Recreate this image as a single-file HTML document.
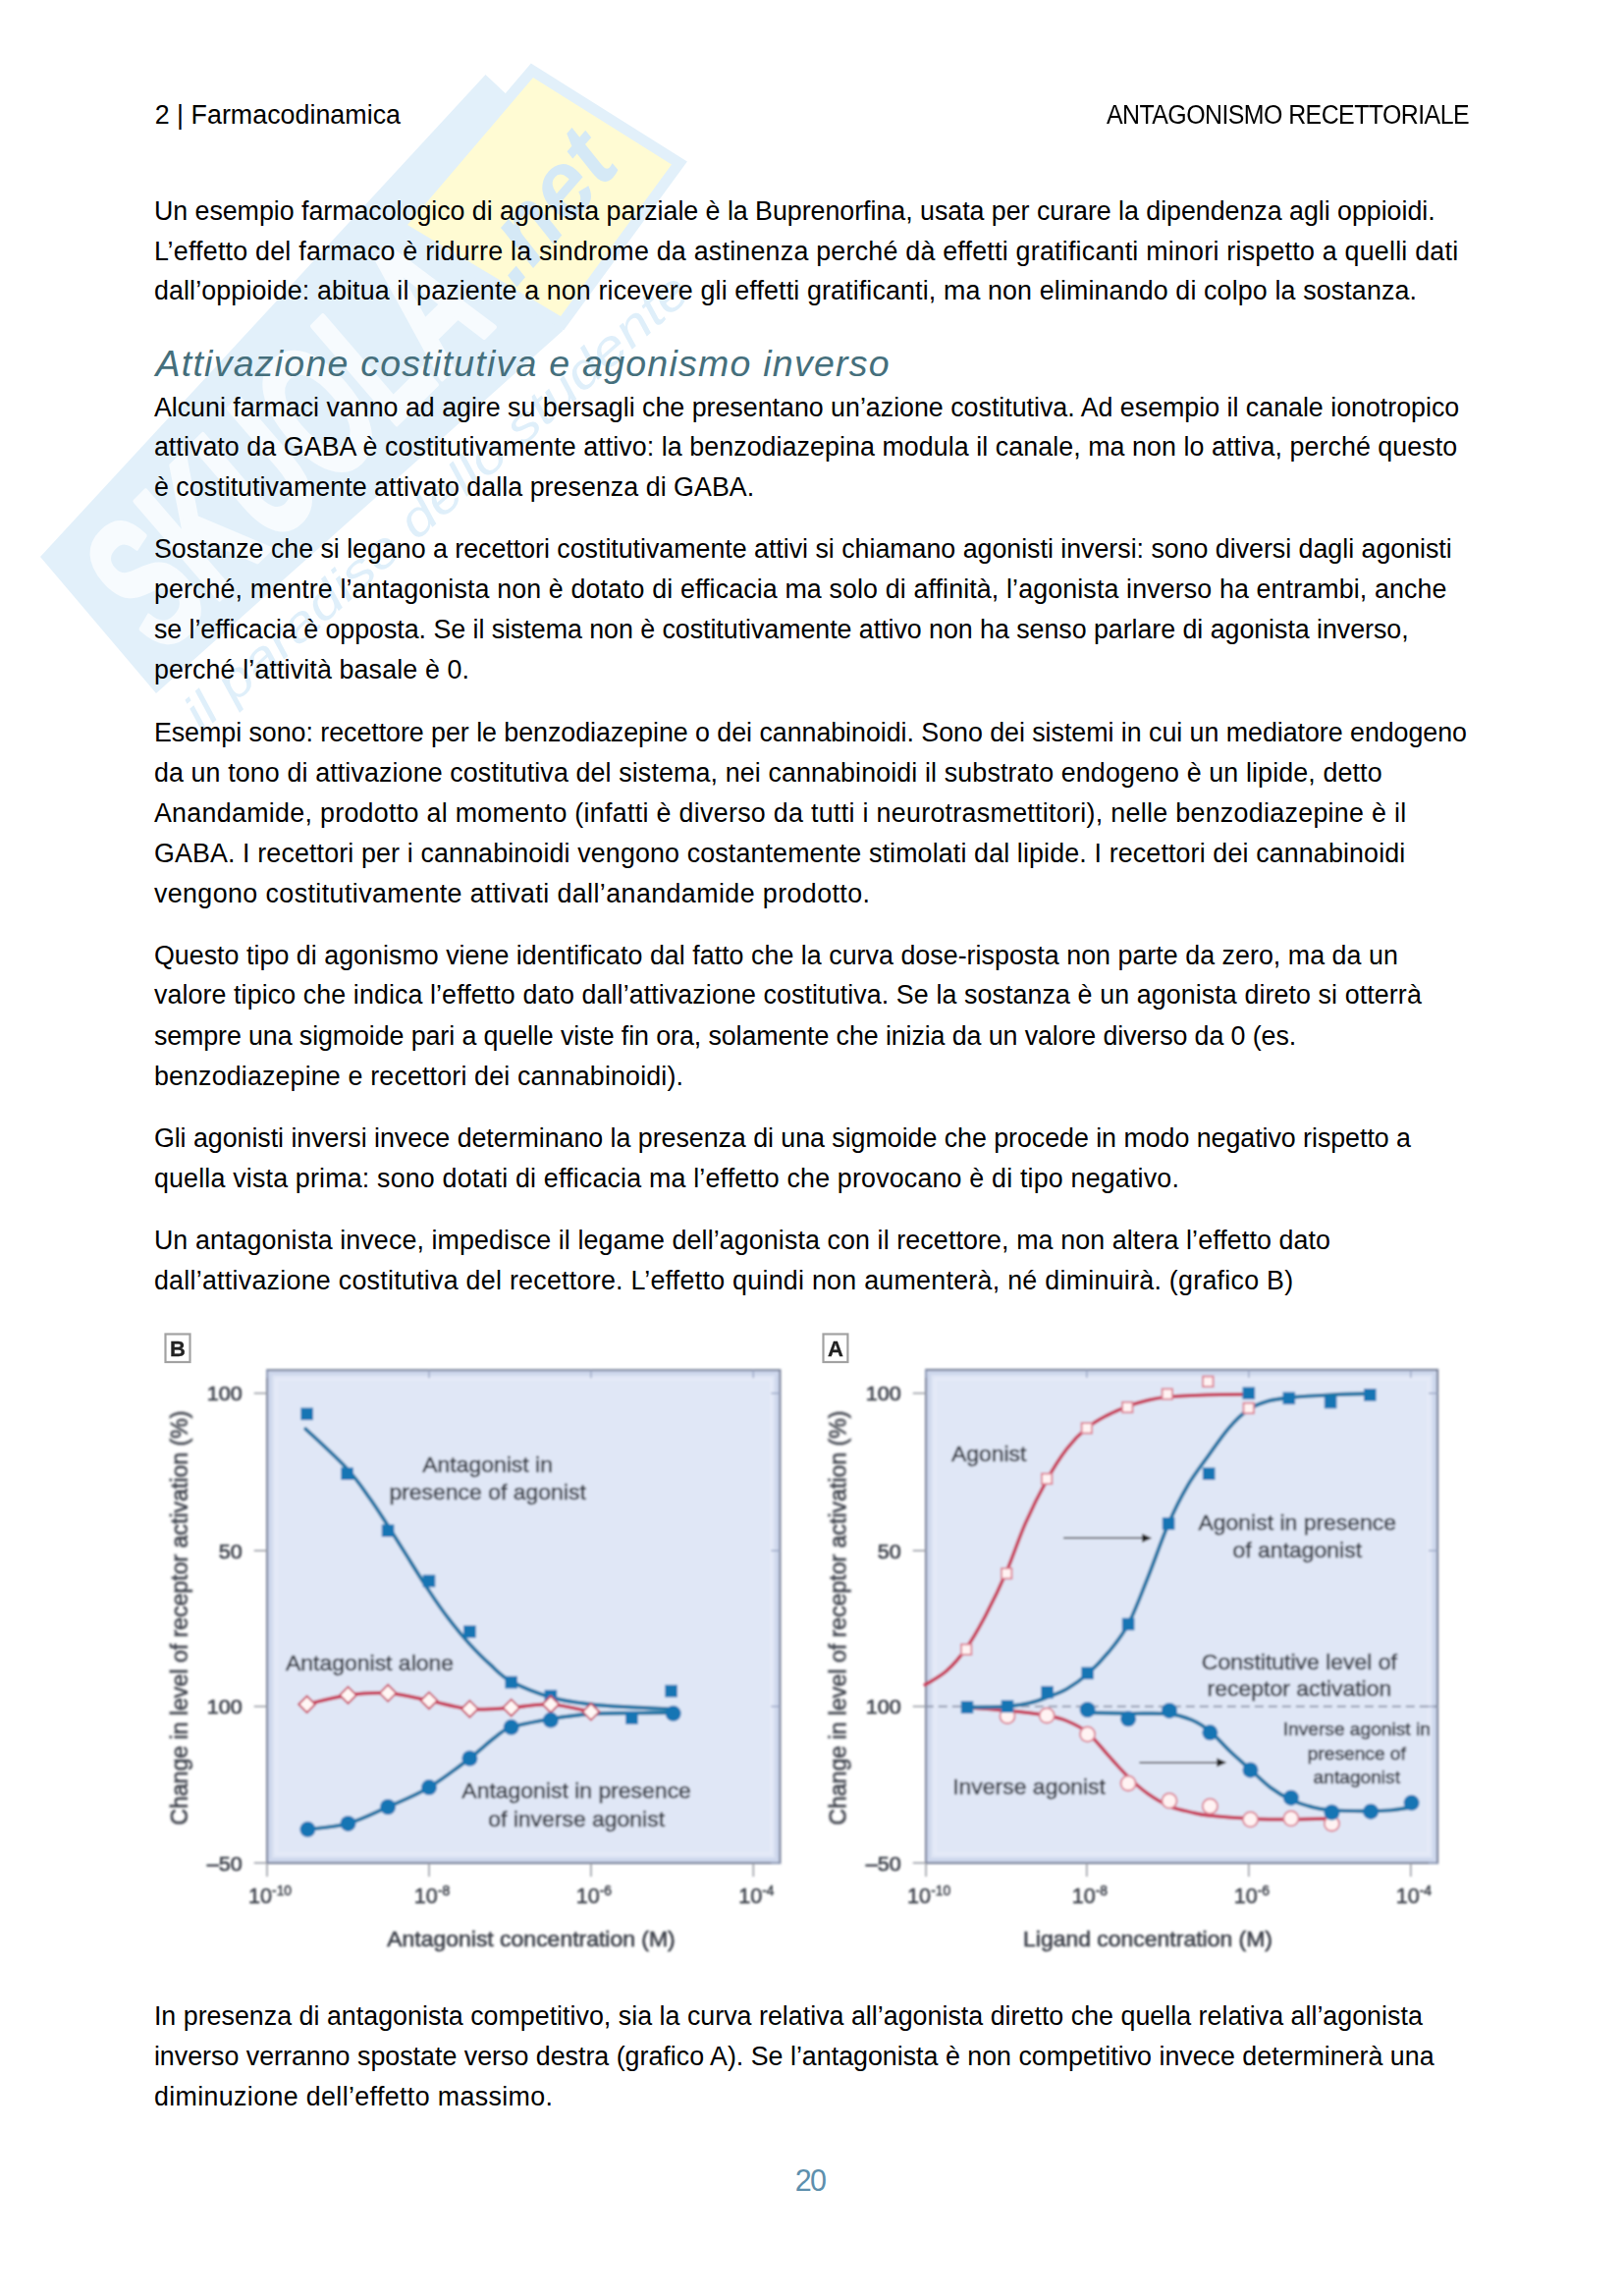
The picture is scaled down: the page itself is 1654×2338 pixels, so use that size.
<!DOCTYPE html>
<html lang="it"><head><meta charset="utf-8"><title>Farmacodinamica - Antagonismo recettoriale</title>
<style>
html,body{margin:0;padding:0;background:#fff}
body{width:1654px;height:2338px;position:relative;overflow:hidden;font-family:"Liberation Sans",sans-serif;color:#000}
header,footer,main,p,figure,h2{margin:0;padding:0;font-weight:normal}
.l{display:block;position:absolute;left:156.9px;white-space:pre;font-size:26.8px;line-height:30px;height:30px;margin:0}
svg{position:absolute;left:0;top:0}
</style></head>
<body>
<svg width="1654" height="2338" viewBox="0 0 1654 2338" font-family="'Liberation Sans',sans-serif">
<polygon points="41.0,567.0 494.5,76.0 520.0,100.0 573.0,337.0 159.0,706.0" fill="#e2f0fa"/>
<text transform="translate(163.5,669.4) rotate(-44.7) skewX(-4)" font-size="190" font-weight="bold" fill="#f7fbfe" stroke="#f7fbfe" stroke-width="5" stroke-linejoin="round" textLength="482" lengthAdjust="spacingAndGlyphs">SKUOLA</text>
<polygon points="540.8,64.6 699.9,164.5 574.0,336.6 398.2,231.8" fill="#e2f0fa"/>
<polygon points="543.0,79.0 684.0,167.5 571.0,322.0 415.0,229.0" fill="#fffbd3"/>
<text transform="translate(579.2,231.4) rotate(-49)" font-size="98" font-style="italic" font-weight="bold" fill="#d5e9f6" text-anchor="middle" textLength="165" lengthAdjust="spacingAndGlyphs">.net</text>
<text transform="translate(205.6,746.2) rotate(-41.7)" font-size="50" font-style="italic" fill="#dfeffa" textLength="670" lengthAdjust="spacingAndGlyphs">il paradiso dello studente</text>
</svg>
<header>
<span class="l hl" style="left:157.7px;top:102px;font-size:26.8px;line-height:30px;height:30px;letter-spacing:0.032px">2 | Farmacodinamica</span>
<span class="l hr" style="left:1127.4px;top:102px;font-size:26.8px;transform:scaleX(.93);transform-origin:0 0;line-height:30px;height:30px;letter-spacing:-0.611px">ANTAGONISMO RECETTORIALE</span>
</header>
<main>
<p>
<span class="l" style="top:200px;letter-spacing:-0.029px">Un esempio farmacologico di agonista parziale è la Buprenorfina, usata per curare la dipendenza agli oppioidi.</span>
<span class="l" style="top:241px;letter-spacing:0.236px">L’effetto del farmaco è ridurre la sindrome da astinenza perché dà effetti gratificanti minori rispetto a quelli dati</span>
<span class="l" style="top:281px;letter-spacing:0.141px">dall’oppioide: abitua il paziente a non ricevere gli effetti gratificanti, ma non eliminando di colpo la sostanza.</span>
</p>
<h2 class="l h2" style="left:158.5px;top:349px;font-size:37.5px;font-style:italic;color:#456f7c;line-height:42px;height:42px;letter-spacing:1.242px">Attivazione costitutiva e agonismo inverso</h2>
<p>
<span class="l" style="top:400px;letter-spacing:-0.008px">Alcuni farmaci vanno ad agire su bersagli che presentano un’azione costitutiva. Ad esempio il canale ionotropico</span>
<span class="l" style="top:440px;letter-spacing:0.068px">attivato da GABA è costitutivamente attivo: la benzodiazepina modula il canale, ma non lo attiva, perché questo</span>
<span class="l" style="top:481px;letter-spacing:0.042px">è costitutivamente attivato dalla presenza di GABA.</span>
</p>
<p>
<span class="l" style="top:544px;letter-spacing:-0.020px">Sostanze che si legano a recettori costitutivamente attivi si chiamano agonisti inversi: sono diversi dagli agonisti</span>
<span class="l" style="top:585px;letter-spacing:0.126px">perché, mentre l’antagonista non è dotato di efficacia ma solo di affinità, l’agonista inverso ha entrambi, anche</span>
<span class="l" style="top:626px;letter-spacing:-0.039px">se l’efficacia è opposta. Se il sistema non è costitutivamente attivo non ha senso parlare di agonista inverso,</span>
<span class="l" style="top:667px;letter-spacing:0.136px">perché l’attività basale è 0.</span>
</p>
<p>
<span class="l" style="top:731px;letter-spacing:-0.033px">Esempi sono: recettore per le benzodiazepine o dei cannabinoidi. Sono dei sistemi in cui un mediatore endogeno</span>
<span class="l" style="top:772px;letter-spacing:0.133px">da un tono di attivazione costitutiva del sistema, nei cannabinoidi il substrato endogeno è un lipide, detto</span>
<span class="l" style="top:813px;letter-spacing:0.309px">Anandamide, prodotto al momento (infatti è diverso da tutti i neurotrasmettitori), nelle benzodiazepine è il</span>
<span class="l" style="top:854px;letter-spacing:0.145px">GABA. I recettori per i cannabinoidi vengono costantemente stimolati dal lipide. I recettori dei cannabinoidi</span>
<span class="l" style="top:895px;letter-spacing:0.422px">vengono costitutivamente attivati dall’anandamide prodotto.</span>
</p>
<p>
<span class="l" style="top:958px;letter-spacing:0.035px">Questo tipo di agonismo viene identificato dal fatto che la curva dose-risposta non parte da zero, ma da un</span>
<span class="l" style="top:998px;letter-spacing:0.103px">valore tipico che indica l’effetto dato dall’attivazione costitutiva. Se la sostanza è un agonista direto si otterrà</span>
<span class="l" style="top:1040px;letter-spacing:-0.091px">sempre una sigmoide pari a quelle viste fin ora, solamente che inizia da un valore diverso da 0 (es.</span>
<span class="l" style="top:1081px;letter-spacing:0.165px">benzodiazepine e recettori dei cannabinoidi).</span>
</p>
<p>
<span class="l" style="top:1144px;letter-spacing:-0.037px">Gli agonisti inversi invece determinano la presenza di una sigmoide che procede in modo negativo rispetto a</span>
<span class="l" style="top:1185px;letter-spacing:0.190px">quella vista prima: sono dotati di efficacia ma l’effetto che provocano è di tipo negativo.</span>
</p>
<p>
<span class="l" style="top:1248px;letter-spacing:0.112px">Un antagonista invece, impedisce il legame dell’agonista con il recettore, ma non altera l’effetto dato</span>
<span class="l" style="top:1289px;letter-spacing:0.272px">dall’attivazione costitutiva del recettore. L’effetto quindi non aumenterà, né diminuirà. (grafico B)</span>
</p>
<figure>
<svg width="1654" height="2338" viewBox="0 0 1654 2338" font-family="'Liberation Sans',sans-serif"><defs><filter id="soft" x="-2%" y="-2%" width="104%" height="104%"><feGaussianBlur stdDeviation="0.9"/></filter><filter id="soft2" x="-10%" y="-10%" width="120%" height="120%"><feGaussianBlur stdDeviation="0.5"/></filter></defs><g filter="url(#soft)">
<g id="chartB">
<rect x="272.2" y="1395.3" width="522.1" height="501.7" fill="#dde4f4" stroke="#78819a" stroke-width="2.3"/>
<rect x="275.2" y="1398.3" width="516.1" height="495.7" fill="none" stroke="#c9d3ea" stroke-width="4" opacity=".8"/>
<rect x="281.2" y="1404.3" width="504.1" height="483.7" fill="#e0e7f6" stroke="#e5eaf8" stroke-width="3"/>
<path d="M258.7,1418.7H272.2" stroke="#9a9ea6" stroke-width="1.6"/>
<path d="M785.3,1418.7H794.3" stroke="#9aa6c4" stroke-width="1.4"/>
<text transform="translate(246.7,1426.3) scale(1.03,1)" font-size="21" text-anchor="end" fill="#3c404a" stroke="#3c404a" stroke-width=".6">100</text>
<path d="M258.7,1579.0H272.2" stroke="#9a9ea6" stroke-width="1.6"/>
<path d="M785.3,1579.0H794.3" stroke="#9aa6c4" stroke-width="1.4"/>
<text transform="translate(246.7,1586.6) scale(1.03,1)" font-size="21" text-anchor="end" fill="#3c404a" stroke="#3c404a" stroke-width=".6">50</text>
<path d="M258.7,1737.6H272.2" stroke="#9a9ea6" stroke-width="1.6"/>
<path d="M785.3,1737.6H794.3" stroke="#9aa6c4" stroke-width="1.4"/>
<text transform="translate(246.7,1745.2) scale(1.03,1)" font-size="21" text-anchor="end" fill="#3c404a" stroke="#3c404a" stroke-width=".6">100</text>
<path d="M258.7,1897.0H272.2" stroke="#9a9ea6" stroke-width="1.6"/>
<path d="M785.3,1897.0H794.3" stroke="#9aa6c4" stroke-width="1.4"/>
<text transform="translate(246.7,1904.6) scale(1.03,1)" font-size="21" text-anchor="end" fill="#3c404a" stroke="#3c404a" stroke-width=".6">–50</text>
<path d="M272.0,1897.0V1911.0" stroke="#9a9ea6" stroke-width="1.6"/>
<path d="M272.0,1395.3v8" stroke="#9aa6c4" stroke-width="1.4"/>
<text x="275.0" y="1938.2" font-size="21.6" text-anchor="middle" fill="#3c404a" stroke="#3c404a" stroke-width=".5">10<tspan dy="-8.5" font-size="13.8">-10</tspan></text>
<path d="M437.0,1897.0V1911.0" stroke="#9a9ea6" stroke-width="1.6"/>
<path d="M437.0,1395.3v8" stroke="#9aa6c4" stroke-width="1.4"/>
<text x="440.0" y="1938.2" font-size="21.6" text-anchor="middle" fill="#3c404a" stroke="#3c404a" stroke-width=".5">10<tspan dy="-8.5" font-size="13.8">-8</tspan></text>
<path d="M601.9,1897.0V1911.0" stroke="#9a9ea6" stroke-width="1.6"/>
<path d="M601.9,1395.3v8" stroke="#9aa6c4" stroke-width="1.4"/>
<text x="604.9" y="1938.2" font-size="21.6" text-anchor="middle" fill="#3c404a" stroke="#3c404a" stroke-width=".5">10<tspan dy="-8.5" font-size="13.8">-6</tspan></text>
<path d="M767.3,1897.0V1911.0" stroke="#9a9ea6" stroke-width="1.6"/>
<path d="M767.3,1395.3v8" stroke="#9aa6c4" stroke-width="1.4"/>
<text x="770.3" y="1938.2" font-size="21.6" text-anchor="middle" fill="#3c404a" stroke="#3c404a" stroke-width=".5">10<tspan dy="-8.5" font-size="13.8">-4</tspan></text>
<text transform="translate(190.8,1647.5) rotate(-90)" font-size="23.3" text-anchor="middle" fill="#3c404a" stroke="#3c404a" stroke-width=".6" textLength="422" lengthAdjust="spacingAndGlyphs">Change in level of receptor activation (%)</text>
<text transform="translate(541.0,1982.1) scale(1.03,1)" font-size="22.3" text-anchor="middle" fill="#3c404a" stroke="#3c404a" stroke-width=".6">Antagonist concentration (M)</text>
<path d="M311.3,1455.1C318.4,1461.8 342.7,1483.8 353.6,1495.7C364.5,1507.5 370.0,1516.5 376.9,1526.1C383.8,1535.8 388.7,1543.8 395.1,1553.6C401.4,1563.5 408.0,1574.3 415.0,1585.3C421.9,1596.4 429.9,1609.5 437.0,1620.0C444.0,1630.6 450.3,1639.8 457.3,1648.8C464.2,1657.8 471.4,1666.4 478.4,1674.2C485.5,1681.9 492.5,1689.0 499.6,1695.3C506.6,1701.7 510.5,1706.8 520.7,1712.3C530.9,1717.7 547.4,1724.4 560.9,1728.3C574.4,1732.2 588.2,1733.8 601.9,1735.5C615.7,1737.2 629.8,1737.7 643.4,1738.5C657.0,1739.3 676.9,1739.9 683.6,1740.2" fill="none" stroke="#1d74a4" stroke-width="3.9" stroke-linecap="round"/>
<path d="M312.6,1735.5C319.6,1734.0 340.7,1728.1 354.5,1726.2C368.2,1724.3 381.3,1723.2 395.1,1724.1C408.8,1725.0 423.1,1729.0 437.0,1731.7C450.8,1734.4 464.5,1739.0 478.4,1740.2C492.4,1741.4 507.0,1739.7 520.7,1738.9C534.5,1738.1 547.4,1734.8 560.9,1735.5C574.4,1736.2 595.1,1741.9 601.9,1743.1" fill="none" stroke="#c8405c" stroke-width="3.7" stroke-linecap="round"/>
<path d="M313.4,1862.8C320.3,1861.9 340.9,1860.7 354.5,1856.9C368.1,1853.1 381.3,1846.1 395.1,1840.0C408.8,1833.9 423.1,1828.4 437.0,1820.1C450.8,1811.9 467.3,1799.0 478.4,1790.5C489.5,1782.0 496.7,1774.6 503.8,1769.4C510.8,1764.1 511.2,1762.0 520.7,1758.8C530.2,1755.6 547.4,1752.6 560.9,1750.3C574.4,1748.1 588.2,1746.2 601.9,1745.2C615.7,1744.3 629.4,1744.6 643.4,1744.4C657.3,1744.2 678.6,1744.0 685.7,1744.0" fill="none" stroke="#1d74a4" stroke-width="3.9" stroke-linecap="round"/>
<rect x="306.3" y="1433.5" width="12.6" height="12.6" fill="#1274b4"/>
<rect x="347.3" y="1494.4" width="12.6" height="12.6" fill="#1274b4"/>
<rect x="388.8" y="1552.4" width="12.6" height="12.6" fill="#1274b4"/>
<rect x="430.7" y="1603.6" width="12.6" height="12.6" fill="#1274b4"/>
<rect x="472.1" y="1655.2" width="12.6" height="12.6" fill="#1274b4"/>
<rect x="514.4" y="1706.8" width="12.6" height="12.6" fill="#1274b4"/>
<rect x="554.6" y="1720.8" width="12.6" height="12.6" fill="#1274b4"/>
<rect x="637.1" y="1743.2" width="12.6" height="12.6" fill="#1274b4"/>
<rect x="677.3" y="1715.7" width="12.6" height="12.6" fill="#1274b4"/>
<path d="M304.1,1735.5L312.6,1727.0L321.1,1735.5L312.6,1744.0Z" fill="#fff7f5" stroke="#c8405c" stroke-width="1.8"/>
<path d="M346.0,1726.2L354.5,1717.7L363.0,1726.2L354.5,1734.7Z" fill="#fff7f5" stroke="#c8405c" stroke-width="1.8"/>
<path d="M386.6,1724.1L395.1,1715.6L403.6,1724.1L395.1,1732.6Z" fill="#fff7f5" stroke="#c8405c" stroke-width="1.8"/>
<path d="M428.5,1731.7L437.0,1723.2L445.5,1731.7L437.0,1740.2Z" fill="#fff7f5" stroke="#c8405c" stroke-width="1.8"/>
<path d="M469.9,1740.2L478.4,1731.7L486.9,1740.2L478.4,1748.7Z" fill="#fff7f5" stroke="#c8405c" stroke-width="1.8"/>
<path d="M512.2,1738.9L520.7,1730.4L529.2,1738.9L520.7,1747.4Z" fill="#fff7f5" stroke="#c8405c" stroke-width="1.8"/>
<path d="M552.4,1735.5L560.9,1727.0L569.4,1735.5L560.9,1744.0Z" fill="#fff7f5" stroke="#c8405c" stroke-width="1.8"/>
<path d="M593.4,1743.1L601.9,1734.6L610.4,1743.1L601.9,1751.6Z" fill="#fff7f5" stroke="#c8405c" stroke-width="1.8"/>
<circle cx="313.4" cy="1862.8" r="8.0" fill="#1274b4"/>
<circle cx="354.5" cy="1856.9" r="8.0" fill="#1274b4"/>
<circle cx="395.1" cy="1840.0" r="8.0" fill="#1274b4"/>
<circle cx="437.0" cy="1820.1" r="8.0" fill="#1274b4"/>
<circle cx="478.4" cy="1790.5" r="8.0" fill="#1274b4"/>
<circle cx="520.7" cy="1758.8" r="8.0" fill="#1274b4"/>
<circle cx="560.9" cy="1751.6" r="8.0" fill="#1274b4"/>
<circle cx="685.7" cy="1744.8" r="8.0" fill="#1274b4"/>
<text transform="translate(496.6,1498.6) scale(1.03,1)" font-size="22.3" text-anchor="middle" fill="#3c404a" stroke="#3c404a" stroke-width=".6">Antagonist in</text>
<text transform="translate(496.6,1527.0) scale(1.03,1)" font-size="22.3" text-anchor="middle" fill="#3c404a" stroke="#3c404a" stroke-width=".6">presence of agonist</text>
<text transform="translate(291.0,1700.8) scale(1.03,1)" font-size="22.3" text-anchor="start" fill="#3c404a" stroke="#3c404a" stroke-width=".6">Antagonist alone</text>
<text transform="translate(587.1,1830.7) scale(1.03,1)" font-size="22.3" text-anchor="middle" fill="#3c404a" stroke="#3c404a" stroke-width=".6">Antagonist in presence</text>
<text transform="translate(587.1,1859.5) scale(1.03,1)" font-size="22.3" text-anchor="middle" fill="#3c404a" stroke="#3c404a" stroke-width=".6">of inverse agonist</text>
</g>
<g id="chartA">
<rect x="943.2" y="1395.0" width="520.8" height="502.0" fill="#dde4f4" stroke="#78819a" stroke-width="2.3"/>
<rect x="946.2" y="1398.0" width="514.8" height="496.0" fill="none" stroke="#c9d3ea" stroke-width="4" opacity=".8"/>
<rect x="952.2" y="1404.0" width="502.8" height="484.0" fill="#e0e7f6" stroke="#e5eaf8" stroke-width="3"/>
<path d="M929.7,1418.7H943.2" stroke="#9a9ea6" stroke-width="1.6"/>
<path d="M1455.0,1418.7H1464.0" stroke="#9aa6c4" stroke-width="1.4"/>
<text transform="translate(917.7,1426.3) scale(1.03,1)" font-size="21" text-anchor="end" fill="#3c404a" stroke="#3c404a" stroke-width=".6">100</text>
<path d="M929.7,1579.0H943.2" stroke="#9a9ea6" stroke-width="1.6"/>
<path d="M1455.0,1579.0H1464.0" stroke="#9aa6c4" stroke-width="1.4"/>
<text transform="translate(917.7,1586.6) scale(1.03,1)" font-size="21" text-anchor="end" fill="#3c404a" stroke="#3c404a" stroke-width=".6">50</text>
<path d="M929.7,1737.6H943.2" stroke="#9a9ea6" stroke-width="1.6"/>
<path d="M1455.0,1737.6H1464.0" stroke="#9aa6c4" stroke-width="1.4"/>
<text transform="translate(917.7,1745.2) scale(1.03,1)" font-size="21" text-anchor="end" fill="#3c404a" stroke="#3c404a" stroke-width=".6">100</text>
<path d="M929.7,1897.0H943.2" stroke="#9a9ea6" stroke-width="1.6"/>
<path d="M1455.0,1897.0H1464.0" stroke="#9aa6c4" stroke-width="1.4"/>
<text transform="translate(917.7,1904.6) scale(1.03,1)" font-size="21" text-anchor="end" fill="#3c404a" stroke="#3c404a" stroke-width=".6">–50</text>
<path d="M943.1,1897.0V1911.0" stroke="#9a9ea6" stroke-width="1.6"/>
<path d="M943.1,1395.0v8" stroke="#9aa6c4" stroke-width="1.4"/>
<text x="946.1" y="1938.2" font-size="21.6" text-anchor="middle" fill="#3c404a" stroke="#3c404a" stroke-width=".5">10<tspan dy="-8.5" font-size="13.8">-10</tspan></text>
<path d="M1106.8,1897.0V1911.0" stroke="#9a9ea6" stroke-width="1.6"/>
<path d="M1106.8,1395.0v8" stroke="#9aa6c4" stroke-width="1.4"/>
<text x="1109.8" y="1938.2" font-size="21.6" text-anchor="middle" fill="#3c404a" stroke="#3c404a" stroke-width=".5">10<tspan dy="-8.5" font-size="13.8">-8</tspan></text>
<path d="M1271.8,1897.0V1911.0" stroke="#9a9ea6" stroke-width="1.6"/>
<path d="M1271.8,1395.0v8" stroke="#9aa6c4" stroke-width="1.4"/>
<text x="1274.8" y="1938.2" font-size="21.6" text-anchor="middle" fill="#3c404a" stroke="#3c404a" stroke-width=".5">10<tspan dy="-8.5" font-size="13.8">-6</tspan></text>
<path d="M1436.8,1897.0V1911.0" stroke="#9a9ea6" stroke-width="1.6"/>
<path d="M1436.8,1395.0v8" stroke="#9aa6c4" stroke-width="1.4"/>
<text x="1439.8" y="1938.2" font-size="21.6" text-anchor="middle" fill="#3c404a" stroke="#3c404a" stroke-width=".5">10<tspan dy="-8.5" font-size="13.8">-4</tspan></text>
<text transform="translate(861.5,1647.5) rotate(-90)" font-size="23.3" text-anchor="middle" fill="#3c404a" stroke="#3c404a" stroke-width=".6" textLength="422" lengthAdjust="spacingAndGlyphs">Change in level of receptor activation (%)</text>
<text transform="translate(1169.0,1982.1) scale(1.03,1)" font-size="22.3" text-anchor="middle" fill="#3c404a" stroke="#3c404a" stroke-width=".6">Ligand concentration (M)</text>
<path d="M941.8,1737.6H1465.1" stroke="#8a93a8" stroke-width="1.6" stroke-dasharray="9 5"/>
<path d="M942.3,1715.6C945.8,1713.3 956.8,1707.9 963.8,1701.7C970.8,1695.5 977.4,1687.9 984.1,1678.4C990.8,1668.9 997.2,1657.6 1004.0,1644.6C1010.8,1631.5 1018.5,1615.7 1025.2,1600.2C1031.9,1584.6 1037.4,1567.0 1044.2,1551.5C1051.0,1536.0 1059.1,1519.8 1066.2,1507.1C1073.2,1494.4 1079.7,1484.2 1086.5,1475.4C1093.3,1466.6 1100.0,1459.9 1106.8,1454.2C1113.6,1448.6 1120.2,1445.2 1127.1,1441.5C1134.0,1437.9 1141.3,1434.8 1148.3,1432.2C1155.2,1429.6 1162.2,1427.5 1169.0,1425.9C1175.8,1424.2 1178.6,1423.4 1188.9,1422.5C1199.1,1421.6 1216.5,1420.8 1230.3,1420.4C1244.1,1419.9 1264.9,1420.0 1271.8,1419.9" fill="none" stroke="#c8405c" stroke-width="3.7" stroke-linecap="round"/>
<path d="M984.1,1738.5C991.1,1739.0 1012.3,1740.5 1026.0,1741.9C1039.7,1743.3 1056.1,1745.2 1066.2,1746.9C1076.3,1748.7 1079.6,1749.5 1086.5,1752.4C1093.4,1755.3 1100.6,1758.4 1107.6,1764.3C1114.7,1770.1 1121.9,1780.0 1128.8,1787.5C1135.7,1795.1 1142.4,1803.1 1149.1,1809.5C1155.8,1816.0 1162.0,1821.5 1169.0,1826.5C1176.0,1831.4 1183.6,1836.0 1191.0,1839.2C1198.4,1842.3 1206.5,1843.9 1213.4,1845.5C1220.3,1847.1 1222.4,1847.8 1232.4,1848.9C1242.4,1849.9 1259.7,1851.2 1273.5,1851.8C1287.2,1852.5 1301.1,1852.7 1314.9,1852.7C1328.7,1852.7 1349.5,1852.0 1356.4,1851.8" fill="none" stroke="#c8405c" stroke-width="3.7" stroke-linecap="round"/>
<path d="M984.1,1738.5C991.1,1738.3 1015.3,1738.3 1026.0,1737.6C1036.7,1736.9 1041.7,1735.8 1048.4,1734.2C1055.2,1732.7 1060.3,1730.7 1066.6,1728.3C1073.0,1725.9 1079.7,1723.8 1086.5,1719.9C1093.3,1715.9 1100.6,1710.8 1107.6,1704.6C1114.7,1698.4 1121.9,1691.1 1128.8,1682.6C1135.7,1674.2 1142.4,1666.6 1149.1,1653.9C1155.8,1641.2 1162.1,1623.6 1169.0,1606.5C1175.8,1589.4 1183.4,1567.0 1190.1,1551.5C1196.8,1536.0 1202.3,1525.1 1209.2,1513.4C1216.0,1501.8 1224.1,1491.6 1231.2,1481.7C1238.2,1471.8 1244.7,1462.0 1251.5,1454.2C1258.2,1446.5 1265.1,1439.8 1271.8,1435.2C1278.5,1430.6 1284.8,1428.7 1291.7,1426.7C1298.5,1424.7 1302.2,1424.4 1312.8,1423.3C1323.4,1422.3 1341.4,1421.1 1355.1,1420.4C1368.9,1419.7 1388.6,1419.3 1395.3,1419.1" fill="none" stroke="#1d74a4" stroke-width="3.9" stroke-linecap="round"/>
<path d="M1107.6,1744.0C1114.6,1744.1 1135.2,1744.6 1149.1,1744.8C1163.0,1745.0 1180.3,1744.2 1191.0,1745.2C1201.7,1746.3 1206.5,1748.2 1213.4,1751.2C1220.3,1754.1 1225.7,1757.5 1232.4,1763.0C1239.1,1768.5 1246.7,1777.7 1253.6,1784.2C1260.4,1790.6 1266.8,1795.9 1273.5,1801.9C1280.2,1807.9 1286.9,1815.0 1293.8,1820.1C1300.7,1825.3 1307.9,1829.5 1314.9,1832.8C1322.0,1836.1 1329.2,1838.2 1336.1,1840.0C1343.0,1841.8 1346.4,1842.7 1356.4,1843.4C1366.4,1844.1 1386.1,1844.2 1396.1,1844.2C1406.2,1844.2 1409.5,1844.0 1416.4,1843.4C1423.4,1842.7 1434.1,1840.9 1437.6,1840.4" fill="none" stroke="#1d74a4" stroke-width="3.9" stroke-linecap="round"/>
<rect x="978.9" y="1674.4" width="10.5" height="10.5" fill="#fff3f3" stroke="#dc7d8f" stroke-width="1.8"/>
<rect x="1019.9" y="1597.0" width="10.5" height="10.5" fill="#fff3f3" stroke="#dc7d8f" stroke-width="1.8"/>
<rect x="1060.9" y="1500.6" width="10.5" height="10.5" fill="#fff3f3" stroke="#dc7d8f" stroke-width="1.8"/>
<rect x="1101.6" y="1449.0" width="10.5" height="10.5" fill="#fff3f3" stroke="#dc7d8f" stroke-width="1.8"/>
<rect x="1143.0" y="1427.8" width="10.5" height="10.5" fill="#fff3f3" stroke="#dc7d8f" stroke-width="1.8"/>
<rect x="1183.6" y="1414.3" width="10.5" height="10.5" fill="#fff3f3" stroke="#dc7d8f" stroke-width="1.8"/>
<rect x="1225.1" y="1401.6" width="10.5" height="10.5" fill="#fff3f3" stroke="#dc7d8f" stroke-width="1.8"/>
<rect x="1266.5" y="1428.7" width="10.5" height="10.5" fill="#fff3f3" stroke="#dc7d8f" stroke-width="1.8"/>
<circle cx="1026.0" cy="1747.4" r="7.6" fill="#fff3f3" stroke="#dc7d8f" stroke-width="1.8"/>
<circle cx="1066.2" cy="1746.9" r="7.6" fill="#fff3f3" stroke="#dc7d8f" stroke-width="1.8"/>
<circle cx="1107.6" cy="1766.0" r="7.6" fill="#fff3f3" stroke="#dc7d8f" stroke-width="1.8"/>
<circle cx="1149.1" cy="1815.9" r="7.6" fill="#fff3f3" stroke="#dc7d8f" stroke-width="1.8"/>
<circle cx="1191.0" cy="1833.7" r="7.6" fill="#fff3f3" stroke="#dc7d8f" stroke-width="1.8"/>
<circle cx="1232.4" cy="1839.2" r="7.6" fill="#fff3f3" stroke="#dc7d8f" stroke-width="1.8"/>
<circle cx="1273.5" cy="1852.7" r="7.6" fill="#fff3f3" stroke="#dc7d8f" stroke-width="1.8"/>
<circle cx="1314.9" cy="1851.8" r="7.6" fill="#fff3f3" stroke="#dc7d8f" stroke-width="1.8"/>
<circle cx="1356.4" cy="1856.9" r="7.6" fill="#fff3f3" stroke="#dc7d8f" stroke-width="1.8"/>
<rect x="978.7" y="1732.2" width="12.6" height="12.6" fill="#1274b4"/>
<rect x="1019.7" y="1731.3" width="12.6" height="12.6" fill="#1274b4"/>
<rect x="1060.3" y="1716.9" width="12.6" height="12.6" fill="#1274b4"/>
<rect x="1101.3" y="1697.5" width="12.6" height="12.6" fill="#1274b4"/>
<rect x="1142.8" y="1647.6" width="12.6" height="12.6" fill="#1274b4"/>
<rect x="1183.8" y="1545.2" width="12.6" height="12.6" fill="#1274b4"/>
<rect x="1224.9" y="1494.4" width="12.6" height="12.6" fill="#1274b4"/>
<rect x="1265.5" y="1412.4" width="12.6" height="12.6" fill="#1274b4"/>
<rect x="1306.5" y="1417.5" width="12.6" height="12.6" fill="#1274b4"/>
<rect x="1348.8" y="1421.7" width="12.6" height="12.6" fill="#1274b4"/>
<rect x="1389.0" y="1414.1" width="12.6" height="12.6" fill="#1274b4"/>
<circle cx="1107.6" cy="1741.0" r="8.0" fill="#1274b4"/>
<circle cx="1149.1" cy="1750.3" r="8.0" fill="#1274b4"/>
<circle cx="1191.0" cy="1741.9" r="8.0" fill="#1274b4"/>
<circle cx="1232.4" cy="1764.3" r="8.0" fill="#1274b4"/>
<circle cx="1273.5" cy="1802.4" r="8.0" fill="#1274b4"/>
<circle cx="1314.9" cy="1830.7" r="8.0" fill="#1274b4"/>
<circle cx="1356.4" cy="1845.5" r="8.0" fill="#1274b4"/>
<circle cx="1396.1" cy="1844.7" r="8.0" fill="#1274b4"/>
<circle cx="1437.6" cy="1835.8" r="8.0" fill="#1274b4"/>
<path d="M1083.1,1566.3H1167.2" stroke="#333" stroke-width="1.5"/><path d="M1173.2,1566.3l-10,-4.5v9z" fill="#222"/>
<path d="M1160.5,1794.7H1243.4" stroke="#333" stroke-width="1.5"/><path d="M1249.4,1794.7l-10,-4.5v9z" fill="#222"/>
<text transform="translate(968.9,1488.1) scale(1.03,1)" font-size="22.3" text-anchor="start" fill="#3c404a" stroke="#3c404a" stroke-width=".6">Agonist</text>
<text transform="translate(1321.3,1557.9) scale(1.03,1)" font-size="22.3" text-anchor="middle" fill="#3c404a" stroke="#3c404a" stroke-width=".6">Agonist in presence</text>
<text transform="translate(1321.3,1586.2) scale(1.03,1)" font-size="22.3" text-anchor="middle" fill="#3c404a" stroke="#3c404a" stroke-width=".6">of antagonist</text>
<text transform="translate(1323.4,1699.6) scale(1.03,1)" font-size="22.3" text-anchor="middle" fill="#3c404a" stroke="#3c404a" stroke-width=".6">Constitutive level of</text>
<text transform="translate(1323.4,1727.1) scale(1.03,1)" font-size="22.3" text-anchor="middle" fill="#3c404a" stroke="#3c404a" stroke-width=".6">receptor activation</text>
<text transform="translate(1381.8,1767.2) scale(1.03,1)" font-size="18.6" text-anchor="middle" fill="#3c404a" stroke="#3c404a" stroke-width=".6">Inverse agonist in</text>
<text transform="translate(1381.8,1791.8) scale(1.03,1)" font-size="18.6" text-anchor="middle" fill="#3c404a" stroke="#3c404a" stroke-width=".6">presence of</text>
<text transform="translate(1381.8,1815.9) scale(1.03,1)" font-size="18.6" text-anchor="middle" fill="#3c404a" stroke="#3c404a" stroke-width=".6">antagonist</text>
<text transform="translate(970.2,1826.5) scale(1.03,1)" font-size="22.3" text-anchor="start" fill="#3c404a" stroke="#3c404a" stroke-width=".6">Inverse agonist</text>
</g>
</g><g filter="url(#soft2)"><rect x="168.5" y="1358.5" width="25.0" height="28.5" fill="#fff" stroke="#a2a2a2" stroke-width="2.2"/>
<text x="181.0" y="1380.7" font-size="22" font-weight="bold" text-anchor="middle" fill="#222" stroke="#222" stroke-width=".3">B</text>
<rect x="838.5" y="1358.5" width="24.9" height="28.5" fill="#fff" stroke="#a2a2a2" stroke-width="2.2"/>
<text x="851.0" y="1380.7" font-size="22" font-weight="bold" text-anchor="middle" fill="#222" stroke="#222" stroke-width=".3">A</text></g></svg>
</figure>
<p>
<span class="l" style="top:2038px;letter-spacing:0.017px">In presenza di antagonista competitivo, sia la curva relativa all’agonista diretto che quella relativa all’agonista</span>
<span class="l" style="top:2079px;letter-spacing:0.003px">inverso verranno spostate verso destra (grafico A). Se l’antagonista è non competitivo invece determinerà una</span>
<span class="l" style="top:2120px;letter-spacing:0.371px">diminuzione dell’effetto massimo.</span>
</p>
</main>
<footer><span class="l pn" style="left:809.7px;top:2203px;font-size:30.5px;color:#5d8fad;line-height:34px;height:34px;letter-spacing:-1.638px">20</span></footer>
</body></html>
